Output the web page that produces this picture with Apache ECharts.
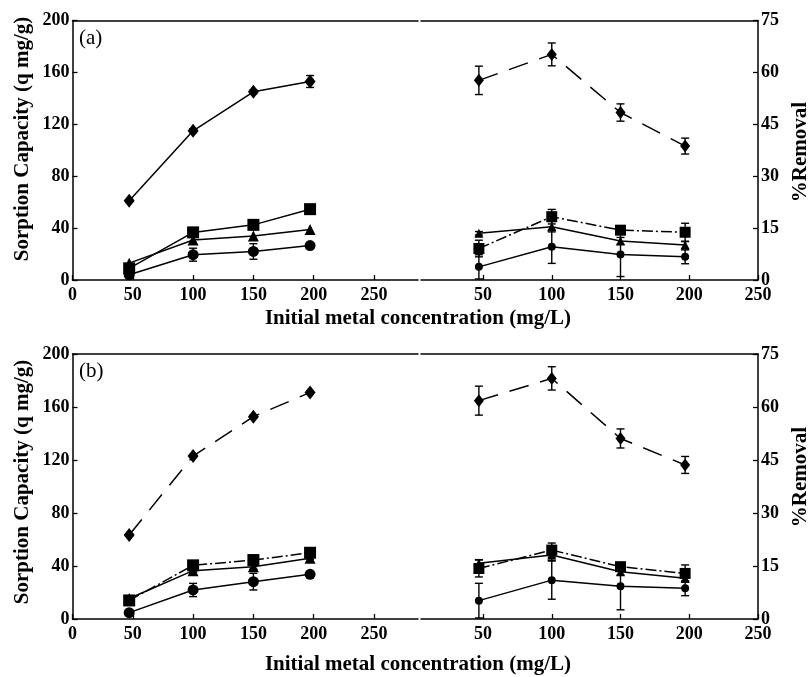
<!DOCTYPE html>
<html>
<head>
    <meta charset="utf-8">
    <title>Sorption capacity and removal</title>
    <script src="https://cdn.jsdelivr.net/npm/echarts@6/dist/echarts.min.js"></script>
    <style>
        html, body { margin: 0; padding: 0; background: #fff; }
        #main { width: 811px; height: 677px; }
    </style>
</head>
<body>
<div id="main"></div>
<script>
    // initial metal concentration (mg/L), x of every point
    var conc = [47, 100, 150, 197];
    var xTicksLeft = [0, 50, 100, 150, 200, 250];
    var xTicksRight = [50, 100, 150, 200, 250];

    // (a) sorption capacity q (mg/g)
    var aCapDiamond = [61, 115, 145, 153];
    var aCapDiamondErr = [1, 1.5, 1.5, 4.6];
    var aCapSquare = [9, 36.7, 42.5, 54.6];
    var aCapSquareErr = [0, 0, 0, 0];
    var aCapTriangle = [13, 30.8, 34, 39];
    var aCapTriangleErr = [0, 0, 0, 0];
    var aCapCircle = [4, 19.5, 22, 26.5];
    var aCapCircleErr = [0, 5, 6, 0.5];

    // (a) % removal
    var aRemDiamond = [57.7, 65.2, 48.4, 38.7];
    var aRemDiamondErr = [4.1, 3.3, 2.5, 2.3];
    var aRemSquare = [9.1, 18.3, 14.4, 13.8];
    var aRemSquareErr = [2.4, 2.1, 1, 2.6];
    var aRemTriangle = [13.5, 15.4, 11.3, 10.1];
    var aRemTriangleErr = [0.5, 1.5, 1, 1];
    var aRemCircle = [3.8, 9.6, 7.4, 6.7];
    var aRemCircleErr = [3.5, 4.8, 6.4, 2];

    // (b) sorption capacity q (mg/g)
    var bCapDiamond = [63.4, 123, 152.7, 171];
    var bCapDiamondErr = [1, 1, 1, 1];
    var bCapSquare = [14, 40.5, 44.5, 50];
    var bCapSquareErr = [1, 2, 2, 1];
    var bCapTriangle = [15.5, 36.5, 39.5, 45.8];
    var bCapTriangleErr = [1, 1, 2, 1];
    var bCapCircle = [4.8, 21.9, 28.2, 33.7];
    var bCapCircleErr = [0, 5, 6.3, 0.5];

    // (b) % removal
    var bRemDiamond = [61.8, 68.1, 51.1, 43.6];
    var bRemDiamondErr = [4.1, 3.3, 2.7, 2.4];
    var bRemSquare = [14.3, 19.5, 14.8, 12.9];
    var bRemSquareErr = [2.4, 2, 1, 2.4];
    var bRemTriangle = [15.8, 18.1, 13.4, 11.5];
    var bRemTriangleErr = [1, 1.5, 1, 1];
    var bRemCircle = [5.2, 11, 9.3, 8.7];
    var bRemCircleErr = [4.9, 5.4, 6.7, 2.1];

    var FONT = '"Liberation Serif", "DejaVu Serif", serif';
    var DASH = [20, 12];
    var DASHDOT = [11, 3, 2, 3];

    var chart = echarts.init(document.getElementById('main'));

    // the x axis is broken: left half 0..286.5, right half 4.9..250
    var grids = [
        { left: 72.5, top: 20.5, width: 345.5, height: 259.5 },
        { left: 421, top: 20.5, width: 337, height: 259.5 },
        { left: 72.5, top: 354, width: 345.5, height: 265 },
        { left: 421, top: 354, width: 337, height: 265 }
    ];

    var xAxes = [];
    var yAxes = [];
    grids.forEach(function (g, i) {
        var isRight = i % 2 === 1;
        var min = isRight ? 4.9 : 0;
        var max = isRight ? 250 : 286.5;
        var ticks = isRight ? xTicksRight : xTicksLeft;
        // bottom axis
        xAxes.push({
            type: 'value', gridIndex: i, position: 'bottom', min: min, max: max,
            axisLine: { show: true, lineStyle: { color: '#000', width: 1.5 } },
            axisTick: { show: true, inside: true, length: 5, customValues: ticks, lineStyle: { color: '#000', width: 1.3 } },
            axisLabel: { customValues: ticks, margin: 6, color: '#000', fontFamily: FONT, fontWeight: 'bold', fontSize: 18 },
            splitLine: { show: false }
        });
        // top frame line
        xAxes.push({
            type: 'value', gridIndex: i, position: 'top', min: min, max: max,
            axisLine: { show: true, lineStyle: { color: '#000', width: 1.5 } },
            axisTick: { show: false }, axisLabel: { show: false }, splitLine: { show: false }
        });
        yAxes.push({
            type: 'value', gridIndex: i, position: isRight ? 'right' : 'left',
            min: 0, max: isRight ? 75 : 200, interval: isRight ? 15 : 40,
            axisLine: { show: true, lineStyle: { color: '#000', width: 1.5 } },
            axisTick: { show: true, inside: true, length: 5, lineStyle: { color: '#000', width: 1.3 } },
            axisLabel: { margin: 3, color: '#000', fontFamily: FONT, fontWeight: 'bold', fontSize: 18 },
            splitLine: { show: false }
        });
    });

    function pts(vals, errs) {
        return conc.map(function (x, k) { return [x, vals[k], errs[k]]; });
    }

    function errorBars(gi, vals, errs) {
        return {
            type: 'custom', xAxisIndex: gi * 2, yAxisIndex: gi, z: 1,
            data: pts(vals, errs),
            renderItem: function (params, api) {
                var x = api.value(0), y = api.value(1), e = api.value(2);
                if (!e) return null;
                var hi = api.coord([x, y + e]);
                var lo = api.coord([x, y - e]);
                var st = { stroke: '#000', lineWidth: 1.4 };
                return {
                    type: 'group', children: [
                        { type: 'line', shape: { x1: hi[0], y1: hi[1], x2: lo[0], y2: lo[1] }, style: st },
                        { type: 'line', shape: { x1: hi[0] - 4, y1: hi[1], x2: hi[0] + 4, y2: hi[1] }, style: st },
                        { type: 'line', shape: { x1: lo[0] - 4, y1: lo[1], x2: lo[0] + 4, y2: lo[1] }, style: st }
                    ]
                };
            }
        };
    }

    function line(gi, vals, symbol, size, dash) {
        return {
            type: 'line', xAxisIndex: gi * 2, yAxisIndex: gi, z: 2,
            data: conc.map(function (x, k) { return [x, vals[k]]; }),
            symbol: symbol, symbolSize: size, showSymbol: true,
            itemStyle: { color: '#000' },
            lineStyle: { color: '#000', width: 1.5, type: dash || 'solid' }
        };
    }

    var series = [];
    function addSet(gi, d, de, s, se, t, te, c, ce, dashD, dashS, big) {
        series.push(errorBars(gi, d, de), errorBars(gi, s, se), errorBars(gi, t, te), errorBars(gi, c, ce));
        series.push(line(gi, d, 'diamond', big ? [11, 14] : [10, 13], dashD));
        series.push(line(gi, s, 'rect', big ? 12 : 11, dashS));
        series.push(line(gi, t, 'triangle', big ? 11 : 9));
        series.push(line(gi, c, 'circle', big ? 11 : 8));
    }
    addSet(0, aCapDiamond, aCapDiamondErr, aCapSquare, aCapSquareErr, aCapTriangle, aCapTriangleErr, aCapCircle, aCapCircleErr, null, null, true);
    addSet(1, aRemDiamond, aRemDiamondErr, aRemSquare, aRemSquareErr, aRemTriangle, aRemTriangleErr, aRemCircle, aRemCircleErr, DASH, DASHDOT, false);
    addSet(2, bCapDiamond, bCapDiamondErr, bCapSquare, bCapSquareErr, bCapTriangle, bCapTriangleErr, bCapCircle, bCapCircleErr, DASH, DASHDOT, true);
    addSet(3, bRemDiamond, bRemDiamondErr, bRemSquare, bRemSquareErr, bRemTriangle, bRemTriangleErr, bRemCircle, bRemCircleErr, DASH, DASHDOT, false);

    function txt(str, x, y, rot, bold) {
        return {
            type: 'text', x: x, y: y, rotation: rot ? Math.PI / 2 : 0,
            style: {
                text: str, fill: '#000', font: (bold ? 'bold ' : '') + '21px ' + FONT,
                textAlign: bold ? 'center' : 'left', textVerticalAlign: 'middle'
            }
        };
    }

    chart.setOption({
        animation: false,
        grid: grids,
        xAxis: xAxes,
        yAxis: yAxes,
        series: series,
        graphic: [
            txt('(a)', 79, 38, false, false),
            txt('(b)', 79, 371, false, false),
            txt('Initial metal concentration (mg/L)', 418, 319, false, true),
            txt('Initial metal concentration (mg/L)', 418, 665, false, true),
            txt('Sorption Capacity (q mg/g)', 23, 139, true, true),
            txt('Sorption Capacity (q mg/g)', 23, 482, true, true),
            txt('%Removal', 801, 152, true, true),
            txt('%Removal', 801, 477, true, true)
        ]
    });
</script>
</body>
</html>
